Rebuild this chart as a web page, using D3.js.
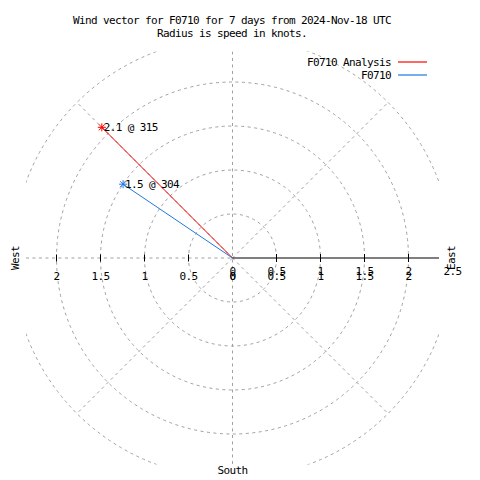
<!DOCTYPE html>
<html><head><meta charset="utf-8">
<script src="https://cdn.jsdelivr.net/npm/d3@7"></script>
<style>
body{margin:0;background:#fff;}
svg text{font-family:"DejaVu Sans Mono","Liberation Mono",monospace;font-size:11px;letter-spacing:-0.62px;fill:#000;}
</style></head>
<body><svg id="c" width="480" height="480"></svg>
<script>
const titleLines = ["Wind vector for F0710 for 7 days from 2024-Nov-18 UTC", "Radius is speed in knots."];
const seriesNames = ["F0710 Analysis", "F0710"];
const speeds = [2.1, 1.5];
const directions = [315, 304];
const seriesColors = ["#ff0000", "#1f78e0"];
const gridRadii = [0.5, 1, 1.5, 2, 2.5];
const gridAngles = [45, 135, 225, 315];
const leftTicks = [0, 0.5, 1, 1.5, 2];
const rightTicks = [0, 0.5, 1, 1.5, 2, 2.5];
const compass = {west: "West", east: "East", south: "South"};

const svg = d3.select("#c");
const cx = 232.5, cy = 258;
const rScale = d3.scaleLinear().domain([0, 2.5]).range([0, 220]);
const maxR = 2.347;
const half = rScale(maxR);
const grid = "#a0a0a0";
const dash = "3,3.5";

svg.append("defs").append("clipPath").attr("id", "clip").append("rect")
  .attr("x", cx - half).attr("y", cy - half).attr("width", 2 * half).attr("height", 2 * half);

const pt = (r, a) => [cx + rScale(r) * Math.sin(a * Math.PI / 180), cy - rScale(r) * Math.cos(a * Math.PI / 180)];

// title
svg.selectAll("text.title").data(titleLines).join("text")
  .attr("x", 232).attr("y", (d, i) => 24 + i * 13).attr("text-anchor", "middle").text(d => d);

const g = svg.append("g").attr("clip-path", "url(#clip)");
g.selectAll("circle.grid").data(gridRadii).join("circle")
  .attr("cx", cx).attr("cy", cy).attr("r", d => rScale(d))
  .attr("fill", "none").attr("stroke", grid).attr("stroke-dasharray", dash);
g.selectAll("line.rad").data(gridAngles).join("line")
  .attr("x1", cx).attr("y1", cy)
  .attr("x2", d => pt(2.5, d)[0]).attr("y2", d => pt(2.5, d)[1])
  .attr("stroke", grid).attr("stroke-dasharray", dash);
g.append("line").attr("x1", cx).attr("x2", cx).attr("y1", cy - half).attr("y2", cy + half)
  .attr("stroke", grid).attr("stroke-dasharray", dash);
g.append("line").attr("x1", cx - half).attr("x2", cx).attr("y1", cy).attr("y2", cy)
  .attr("stroke", grid).attr("stroke-dasharray", dash);

// right axis (solid)
svg.append("line").attr("x1", cx).attr("x2", cx + half).attr("y1", cy).attr("y2", cy)
  .attr("stroke", "#000").attr("stroke-width", 1.2);
svg.selectAll("line.rt").data(rightTicks.filter(d => d > 0 && d < maxR)).join("line")
  .attr("x1", d => cx + rScale(d)).attr("x2", d => cx + rScale(d))
  .attr("y1", cy - 4).attr("y2", cy + 4).attr("stroke", "#000");
svg.selectAll("line.lt").data(leftTicks.filter(d => d > 0)).join("line")
  .attr("x1", d => cx - rScale(d)).attr("x2", d => cx - rScale(d))
  .attr("y1", cy - 3.5).attr("y2", cy + 3.5).attr("stroke", "#000");

const fmt = d => String(d);
svg.selectAll("text.ll").data(leftTicks).join("text")
  .attr("x", d => cx - rScale(d)).attr("y", cy + 22).attr("text-anchor", "middle").text(fmt);
svg.selectAll("text.rl1").data(leftTicks).join("text")
  .attr("x", d => cx + rScale(d)).attr("y", cy + 22).attr("text-anchor", "middle").text(fmt);
svg.selectAll("text.rl2").data(rightTicks).join("text")
  .attr("x", d => cx + rScale(d)).attr("y", cy + 17).attr("text-anchor", "middle").text(fmt);

// compass labels
svg.append("text").attr("transform", `translate(${19},${cy}) rotate(-90)`).attr("text-anchor", "middle").text(compass.west);
svg.append("text").attr("transform", `translate(${455},${cy}) rotate(-90)`).attr("text-anchor", "middle").text(compass.east);
svg.append("text").attr("x", cx).attr("y", 474).attr("text-anchor", "middle").text(compass.south);

// vectors
const data = seriesNames.map((n, i) => ({name: n, s: speeds[i], d: directions[i], c: seriesColors[i]}));
data.forEach(v => {
  const [x, y] = pt(v.s, v.d);
  svg.append("line").attr("x1", cx).attr("y1", cy).attr("x2", x).attr("y2", y).attr("stroke", v.c).attr("stroke-width", 1);
  const s = 4;
  const star = svg.append("g").attr("stroke", v.c).attr("stroke-width", 1);
  star.append("line").attr("x1", x - s).attr("x2", x + s).attr("y1", y).attr("y2", y);
  star.append("line").attr("x1", x).attr("x2", x).attr("y1", y - s).attr("y2", y + s);
  star.append("line").attr("x1", x - 3).attr("x2", x + 3).attr("y1", y - 3).attr("y2", y + 3);
  star.append("line").attr("x1", x - 3).attr("x2", x + 3).attr("y1", y + 3).attr("y2", y - 3);
  svg.append("text").attr("x", x + 2).attr("y", y + 3.5).text(`${v.s} @ ${v.d}`);
});

// legend
data.forEach((v, i) => {
  const y = 62 + i * 13;
  svg.append("text").attr("x", 391).attr("y", y + 3.5).attr("text-anchor", "end").text(v.name);
  svg.append("line").attr("x1", 398).attr("x2", 427).attr("y1", y).attr("y2", y).attr("stroke", v.c).attr("stroke-width", 1.2);
});
</script></body></html>
